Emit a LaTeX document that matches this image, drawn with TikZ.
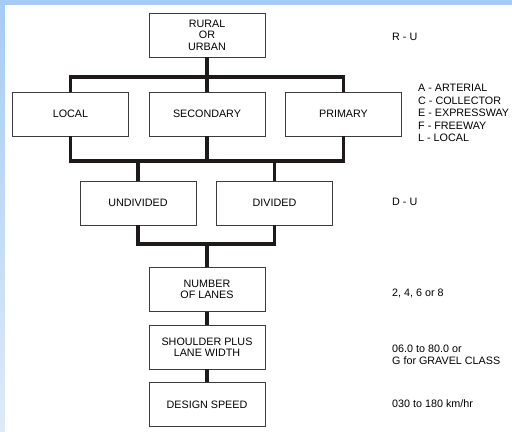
\documentclass[tikz,border=0pt]{standalone}
\usepackage{fontspec}
\setmainfont{Liberation Sans}
\definecolor{bandblue}{RGB}{166,203,245}
\definecolor{stripbot}{RGB}{222,234,247}
\definecolor{linecol}{RGB}{30,26,26}
\definecolor{boxline}{RGB}{60,60,60}
\begin{document}
\begin{tikzpicture}[x=1bp,y=-1bp,
  box/.style={draw=boxline,line width=0.9bp,fill=white,minimum width=116bp,minimum height=44bp,inner sep=0pt,align=center,
    font=\fontsize{10.8}{11.5}\selectfont},
  conn/.style={draw=linecol,line width=3.5bp,line join=miter},
  note/.style={anchor=west,inner sep=0pt,align=left,font=\fontsize{10.8}{12.5}\selectfont}]
\useasboundingbox (0,0) rectangle (512,431);
\fill[white] (0,0) rectangle (512,431);
\shade[top color=bandblue,bottom color=stripbot] (0,0) rectangle (4.5,431);
\fill[bandblue] (0,0) rectangle (512,5);
% boxes
\node[box] (rural) at (207,35) {RURAL\\OR\\URBAN};
\node[box] (local) at (70.5,114) {LOCAL};
\node[box] (secondary) at (207,114) {SECONDARY};
\node[box] (primary) at (343.5,114) {PRIMARY};
\node[box] (undivided) at (138,203) {UNDIVIDED};
\node[box] (divided) at (274.5,203) {DIVIDED};
\node[box] (number) at (207,289.5) {NUMBER\\OF LANES};
\node[box] (shoulder) at (207,347) {SHOULDER PLUS\\LANE WIDTH};
\node[box] (design) at (207,404.5) {DESIGN SPEED};
% bar coordinates
\coordinate (bara) at (207,77);
\coordinate (barb) at (207,161);
\coordinate (barc) at (207,244);
% connectors
\draw[conn] (rural.south) -- (rural.south |- bara);
\draw[conn] (local.north) -- (local.north |- bara) -- (primary.north |- bara) -- (primary.north);
\draw[conn] (secondary.north) -- (secondary.north |- bara);
\draw[conn] (local.south) -- (local.south |- barb) -- (primary.south |- barb) -- (primary.south);
\draw[conn] (secondary.south) -- (secondary.south |- barb);
\draw[conn] (undivided.north) -- (undivided.north |- barb);
\draw[conn] (divided.north) -- (divided.north |- barb);
\draw[conn] (undivided.south) -- (undivided.south |- barc) -- (divided.south |- barc) -- (divided.south);
\draw[conn] (number.north) -- (number.north |- barc);
\draw[conn] (number.south) -- (shoulder.north);
\draw[conn] (shoulder.south) -- (design.north);
% notes
\node[note] (nru) at (392,37) {R - U};
\node[note] (nleg) at (418,113) {A - ARTERIAL\\C - COLLECTOR\\E - EXPRESSWAY\\F - FREEWAY\\L - LOCAL};
\node[note] (ndu) at (392,202) {D - U};
\node[note] (nlanes) at (392,293) {2, 4, 6 or 8};
\node[note,font=\fontsize{10.8}{12}\selectfont] (nwidth) at (392,355) {06.0 to 80.0 or\\G for GRAVEL CLASS};
\node[note] (nspeed) at (392,404) {030 to 180 km/hr};
\end{tikzpicture}
\end{document}
